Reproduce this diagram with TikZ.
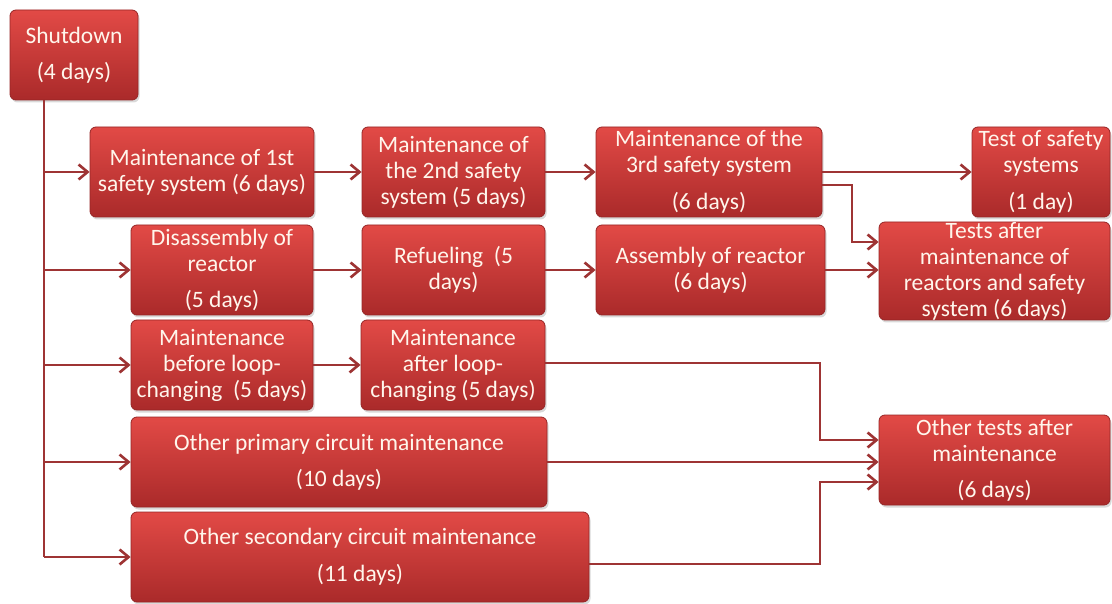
\documentclass[tikz,border=0pt]{standalone}
\usepackage{fontspec}
\setmainfont{Carlito}
\usetikzlibrary{arrows.meta}
\usetikzlibrary{shadows}
\definecolor{boxtop}{RGB}{226,74,70}
\definecolor{boxbot}{RGB}{170,42,42}
\definecolor{boxline}{RGB}{150,38,38}
\definecolor{linkred}{RGB}{158,52,52}
\definecolor{boxtext}{RGB}{255,246,236}
\begin{document}
\begin{tikzpicture}[x=1pt,y=-1pt,
  task/.style={draw=boxline, line width=0.8pt, rounded corners=6pt,
    top color=boxtop, bottom color=boxbot, text=boxtext, align=center,
    inner sep=0pt, font=\fontsize{23.5}{26}\selectfont,
    drop shadow={opacity=0.3, shadow xshift=1.5pt, shadow yshift=-2.5pt}},
  link/.style={draw=linkred, line width=2.6pt,
    -{Straight Barb[length=9pt,width=15pt]}},
  trunkline/.style={draw=linkred, line width=2.6pt}]
\useasboundingbox (0,0) rectangle (1112,604);
% the boxes
\node[task, minimum width=128pt, minimum height=90pt] (shut) at (74,55) {Shutdown\\[10pt](4 days)};
%     first row
\node[task, minimum width=224pt, minimum height=90pt] (mone) at (202,172) {Maintenance of 1st\\safety system (6 days)};
\node[task, minimum width=183pt, minimum height=90pt] (mtwo) at (453.5,172) {Maintenance of\\the 2nd safety\\system (5 days)};
\node[task, minimum width=226pt, minimum height=90pt] (mthree) at (709,172) {Maintenance of the\\3rd safety system\\[11pt](6 days)};
\node[task, minimum width=138pt, minimum height=90pt] (tsafe) at (1041,172) {Test of safety\\systems\\[11pt](1 day)};
%     second row
\node[task, minimum width=182pt, minimum height=90pt] (disasm) at (222,270) {Disassembly of\\reactor\\[10pt](5 days)};
\node[task, minimum width=183pt, minimum height=90pt] (refuel) at (453.5,270) {Refueling~ (5\\days)};
\node[task, minimum width=229pt, minimum height=90pt] (asm) at (710.5,270) {Assembly of reactor\\(6 days)};
\node[task, minimum width=231pt, minimum height=98pt] (tafter) at (994.5,271) {Tests after\\maintenance of\\reactors and safety\\system (6 days)};
%     third row
\node[task, minimum width=182pt, minimum height=90pt] (before) at (222,365) {Maintenance\\before loop-\\changing~ (5 days)};
\node[task, minimum width=184pt, minimum height=90pt] (after) at (453,365) {Maintenance\\after loop-\\changing (5 days)};
%     bottom rows
\node[task, minimum width=416pt, minimum height=90pt] (prim) at (339,462) {Other primary circuit maintenance\\[10pt](10 days)};
\node[task, minimum width=231pt, minimum height=90pt] (otests) at (994.5,460) {Other tests after\\maintenance\\[10pt](6 days)};
\node[task, minimum width=458pt, minimum height=90pt] (sec) at (360,557) {Other secondary circuit maintenance\\[11pt](11 days)};
% the connectors
\coordinate (trunk) at (44,557);
\coordinate (tturn) at (852,0);
\coordinate (merge) at (820,0);
\draw[trunkline] (shut.south -| trunk) -- (trunk);
\draw[link] (trunk |- mone.west) -- (mone.west);
\draw[link] (trunk |- disasm.west) -- (disasm.west);
\draw[link] (trunk |- before.west) -- (before.west);
\draw[link] (trunk |- prim.west) -- (prim.west);
\draw[link] (trunk |- sec.west) -- (sec.west);
\draw[link] (mone) -- (mtwo);
\draw[link] (mtwo) -- (mthree);
\draw[link] (mthree) -- (tsafe);
\draw[link] ([yshift=-13pt]mthree.east) -- ([yshift=-13pt]mthree.east -| tturn) |- ([yshift=29pt]tafter.west);
\draw[link] (disasm) -- (refuel);
\draw[link] (refuel) -- (asm);
\draw[link] (asm.east) -- (asm.east -| tafter.west);
\draw[link] (before) -- (after);
\draw[link] ([yshift=2pt]after.east) -- ([yshift=2pt]after.east -| merge) |- ([yshift=20pt]otests.west);
\draw[link] (prim.east) -- (prim.east -| otests.west);
\draw[link] ([yshift=-7pt]sec.east) -- ([yshift=-7pt]sec.east -| merge) |- ([yshift=-22pt]otests.west);
\end{tikzpicture}
\end{document}
